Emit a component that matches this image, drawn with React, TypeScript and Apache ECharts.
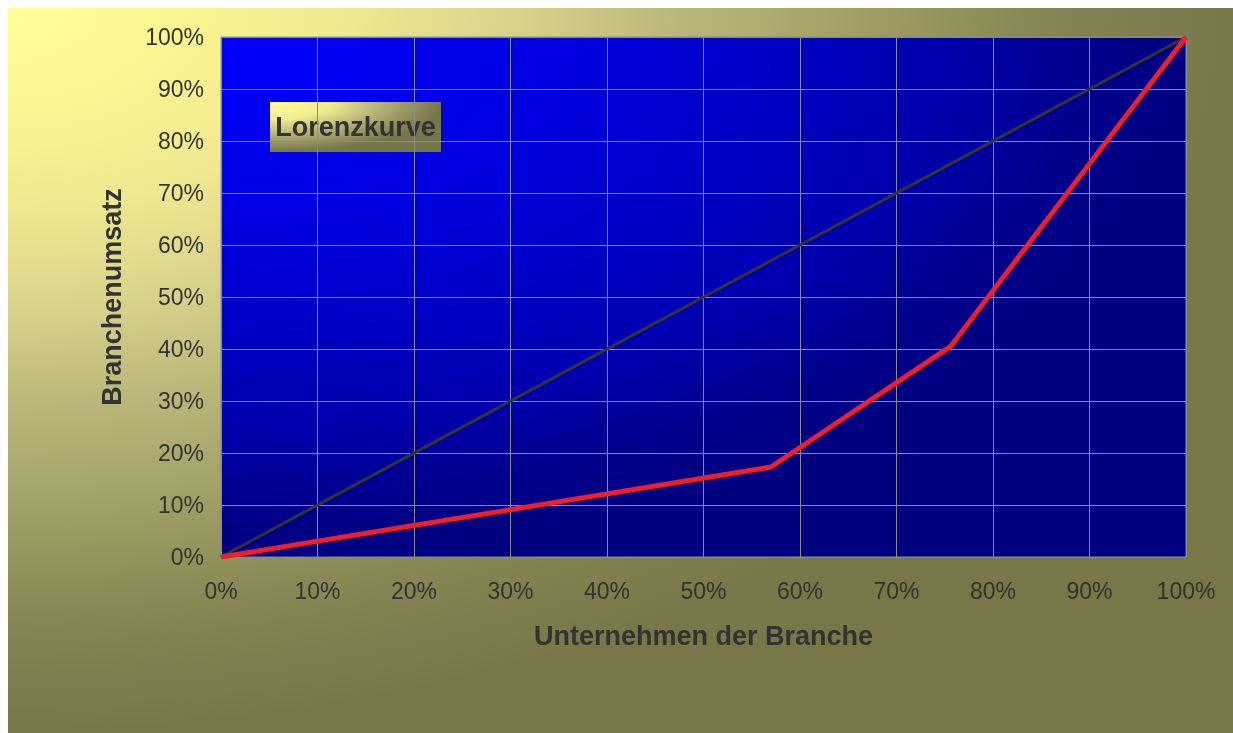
import React, { useEffect, useRef } from "react";
import * as echarts from "echarts";

const xTicks = [0, 10, 20, 30, 40, 50, 60, 70, 80, 90, 100];
const yTicks = [0, 10, 20, 30, 40, 50, 60, 70, 80, 90, 100];
const equalityLine: [number, number][] = [
  [0, 0],
  [100, 100],
];
const lorenzCurve: [number, number][] = [
  [0, 0],
  [57, 17.3],
  [75.6, 40.5],
  [100, 100],
];
const xTitle = "Unternehmen der Branche";
const yTitle = "Branchenumsatz";
const boxLabel = "Lorenzkurve";

const FONT = "'Liberation Sans', Arial, Helvetica, sans-serif";

export default function App() {
  const ref = useRef<HTMLDivElement>(null);
  useEffect(() => {
    if (!ref.current) return;
    const chart = echarts.init(ref.current, undefined, { renderer: "svg" });
    const option: any = {
      animation: false,
      backgroundColor: "transparent",
      textStyle: { fontFamily: FONT },
      grid: {
        left: 213,
        top: 29,
        width: 965,
        height: 520,
        show: true,
        borderColor: "#8a8a8a",
        borderWidth: 1,
        backgroundColor: {
          type: "radial",
          x: 0,
          y: 0,
          r: 1,
          colorStops: [
            { offset: 0, color: "#0000FF" },
            { offset: 0.4, color: "#0000DD" },
            { offset: 0.75, color: "#0000AE" },
            { offset: 0.9, color: "#00008C" },
            { offset: 1, color: "#000080" },
          ],
        },
      },
      xAxis: {
        type: "value",
        min: xTicks[0],
        max: xTicks[xTicks.length - 1],
        interval: 10,
        name: xTitle,
        nameLocation: "middle",
        nameGap: 65,
        nameTextStyle: { fontSize: 27, fontWeight: "bold", color: "#333333", fontFamily: FONT },
        axisLine: { show: false },
        axisTick: { show: false },
        axisLabel: {
          formatter: "{value}%",
          fontSize: 23,
          color: "#333333",
          margin: 22,
          fontFamily: FONT,
        },
        splitLine: { show: true, lineStyle: { color: "#8a8a8a", width: 1 } },
      },
      yAxis: {
        type: "value",
        min: yTicks[0],
        max: yTicks[yTicks.length - 1],
        interval: 10,
        name: yTitle,
        nameLocation: "middle",
        nameGap: 96,
        nameRotate: 90,
        nameTextStyle: { fontSize: 27, fontWeight: "bold", color: "#333333", fontFamily: FONT },
        axisLine: { show: false },
        axisTick: { show: false },
        axisLabel: {
          formatter: "{value}%",
          fontSize: 23,
          color: "#333333",
          margin: 17,
          fontFamily: FONT,
        },
        splitLine: { show: true, lineStyle: { color: "#8a8a8a", width: 1 } },
      },
      series: [
        {
          type: "line",
          data: equalityLine,
          symbol: "none",
          lineStyle: { color: "#333333", width: 3 },
          z: 2,
        },
        {
          type: "line",
          data: lorenzCurve,
          symbol: "none",
          lineStyle: { color: "#EE2026", width: 5 },
          z: 3,
        },
      ],
      graphic: [
        {
          type: "group",
          left: 262,
          top: 94,
          z: 10,
          children: [
            {
              type: "rect",
              shape: { x: 0, y: 0, width: 171, height: 50 },
              style: {
                fill: {
                  type: "radial",
                  x: 0,
                  y: 0,
                  r: 1,
                  colorStops: [
                    { offset: 0, color: "#FFFF99" },
                    { offset: 0.35, color: "#F0EC90" },
                    { offset: 0.65, color: "#B5B276" },
                    { offset: 1, color: "#76764A" },
                  ],
                },
              },
            },
            {
              type: "text",
              x: 85.5,
              y: 25,
              style: {
                text: boxLabel,
                fontSize: 27,
                fontWeight: "bold",
                fontFamily: FONT,
                fill: "#333333",
                align: "center",
                verticalAlign: "middle",
              },
            },
          ],
        },
      ],
    };
    chart.setOption(option);
    return () => chart.dispose();
  }, []);

  return (
    <div
      style={{
        position: "fixed",
        left: 8,
        top: 8,
        width: 1225,
        height: 725,
        background:
          "radial-gradient(1225px 725px at 0 0, #FFFF99 0%, #FAF591 14%, #EEE890 28%, #D9D38A 41%, #BAB679 55%, #A0A065 69%, #888855 83%, #777748 100%)",
      }}
    >
      <div ref={ref} style={{ width: 1225, height: 725 }} />
    </div>
  );
}
